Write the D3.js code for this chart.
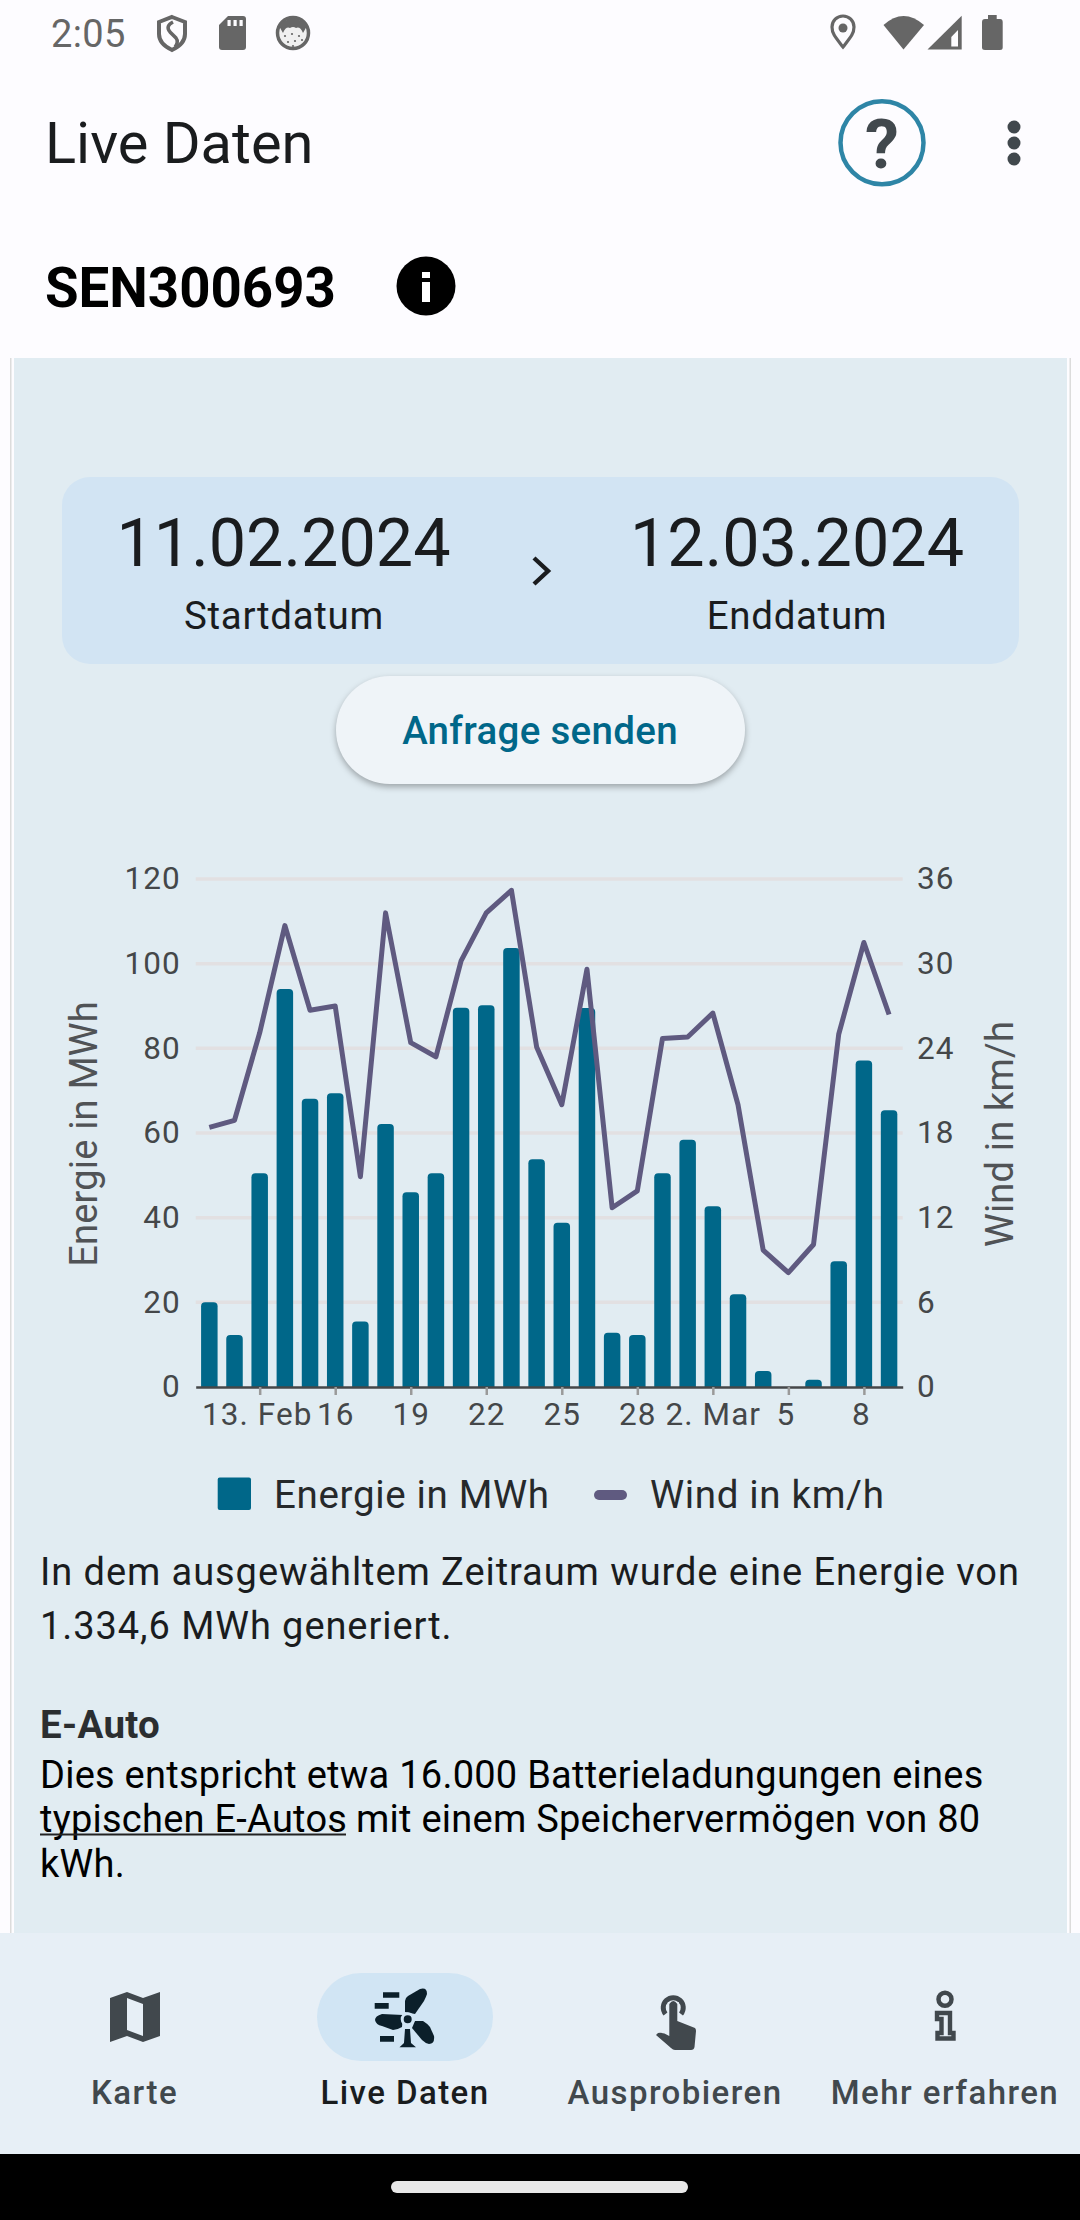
<!DOCTYPE html>
<html lang="de">
<head>
<meta charset="utf-8">
<title>Live Daten</title>
<script src="https://cdn.jsdelivr.net/npm/d3@7"></script>
<style>
  html, body { margin: 0; padding: 0; background: #fdfcff; }
  svg { display: block; font-family: Roboto, sans-serif; }
</style>
</head>
<body>
<div id="app"></div>
<script>
// values
const energy = [20, 12.3, 50.5, 94, 68.1, 69.4, 15.5, 62.1, 46, 50.5, 89.6, 90.2, 103.7, 53.8,
  38.8, 89.5, 12.8, 12.3, 50.5, 58.4, 42.7, 21.9, 3.8, 0, 1.7, 29.7, 77.1, 65.4]
const wind = [18.4, 18.9, 25.1, 32.7, 26.7, 27, 14.9, 33.6, 24.4, 23.4, 30.2, 33.6, 35.2, 24.1,
  20, 29.6, 12.7, 13.9, 24.7, 24.8, 26.5, 20, 9.7, 8.1, 10.1, 25, 31.5, 26.4]
const days = energy.map((_, i) => new Date(2024, 1, 11 + i))
const xTickDays = [new Date(2024, 1, 13), new Date(2024, 1, 16), new Date(2024, 1, 19), new Date(2024, 1, 22),
  new Date(2024, 1, 25), new Date(2024, 1, 28), new Date(2024, 2, 2), new Date(2024, 2, 5), new Date(2024, 2, 8)]
const xTickLabels = ['13. Feb', '16', '19', '22', '25', '28', '2. Mar', '5', '8']
const energyTicks = [0, 20, 40, 60, 80, 100, 120]
const windTicks = [0, 6, 12, 18, 24, 30, 36]
const navLabels = ['Karte', 'Live Daten', 'Ausprobieren', 'Mehr erfahren']

const blue = '#006789'
const purple = '#5f5a80'
const dark = '#1a1c1e'
const iconGrey = '#41484d'
const statusGrey = '#666666'

const svg = d3.select('#app').append('svg').attr('width', 1080).attr('height', 2220)

function label (txt, x, y, size, opts = {}) {
  return svg.append('text')
    .text(txt)
    .attr('x', x)
    .attr('y', y)
    .attr('font-size', size)
    .attr('font-weight', opts.weight || 400)
    .attr('letter-spacing', opts.spacing || 0)
    .attr('text-anchor', opts.anchor || 'start')
    .attr('fill', opts.fill || dark)
}

function shape (d, fill) {
  return svg.append('path').attr('d', d).attr('fill', fill)
}

// page background
svg.append('rect').attr('width', 1080).attr('height', 2220).attr('fill', '#fdfcff')
svg.append('rect').attr('x', 10).attr('y', 358).attr('width', 1.5).attr('height', 1575).attr('fill', '#dcdcdc')
svg.append('rect').attr('x', 1069.5).attr('y', 358).attr('width', 1.5).attr('height', 1575).attr('fill', '#dcdcdc')
svg.append('rect').attr('x', 14).attr('y', 358).attr('width', 1053).attr('height', 1575).attr('fill', '#e1ecf2')

// status bar
label('2:05', 51, 47, 38, { fill: statusGrey, spacing: 0.4 })
const shield = svg.append('g').attr('fill', 'none').attr('stroke', statusGrey)
shield.append('path').attr('stroke-width', 4)
  .attr('d', 'M172 17 L185 22 V34 Q185 44 172 50 Q159 44 159 34 V22 Z')
shield.append('path').attr('stroke-width', 3.5)
  .attr('d', 'M173 22 Q165 26 170 32 L176 38 Q179 42 175 47')
shape('M228 16 H243 Q246 16 246 19 V47 Q246 50 243 50 H222 Q219 50 219 47 V25 Z', statusGrey)
svg.selectAll('.sdpin').data([229, 235, 241]).join('rect').attr('class', 'sdpin')
  .attr('x', d => d - 1.5).attr('y', 20).attr('width', 3.2).attr('height', 6).attr('fill', '#fdfcff')
svg.append('circle').attr('cx', 293).attr('cy', 33).attr('r', 15.5).attr('fill', '#f0f0f0').attr('stroke', statusGrey).attr('stroke-width', 3.5)
shape('M279 26 Q293 11 307 26 L303 33 Q300 26 296 28 Q293 26 290 28 Q286 26 283 33 Z', statusGrey)
svg.selectAll('.cookie').data([[285, 36], [292, 34], [299, 36], [288, 42], [295, 41], [302, 40], [293, 46]])
  .join('circle').attr('class', 'cookie')
  .attr('cx', d => d[0]).attr('cy', d => d[1]).attr('r', 1.1).attr('fill', statusGrey)
svg.append('path').attr('fill', 'none').attr('stroke', statusGrey).attr('stroke-width', 3.2)
  .attr('d', 'M843 47 C836 38 832 34 832 27 A11 11 0 0 1 854 27 C854 34 850 38 843 47 Z')
svg.append('circle').attr('cx', 843).attr('cy', 28).attr('r', 4.5).attr('fill', statusGrey)
shape('M903.5 49.5 L883.5 25 Q903.5 7 924 25 Z', statusGrey)
shape('M927.5 49.5 L961.7 15.7 V49.5 Z', statusGrey)
shape('M951.3 37 L958 30 V46.6 H951.3 Z', '#fdfcff')
shape('M988 15 H996.7 V19 H1000 Q1002.7 19 1002.7 22 V47.5 Q1002.7 50 1000 50 H985 Q982 50 982 47.5 V22 Q982 19 985 19 H988 Z', statusGrey)

// app bar
label('Live Daten', 45, 163, 57.75)
svg.append('circle').attr('cx', 882).attr('cy', 142.7).attr('r', 41.5).attr('fill', 'none').attr('stroke', '#2e85a6').attr('stroke-width', 4.5)
label('?', 882, 168, 68, { anchor: 'middle', weight: 700, fill: iconGrey })
svg.selectAll('.dot').data([127, 143, 159]).join('circle').attr('class', 'dot')
  .attr('cx', 1014).attr('cy', d => d).attr('r', 6.5).attr('fill', iconGrey)
label('SEN300693', 45, 307, 54.6, { weight: 700, fill: '#000' })
svg.append('circle').attr('cx', 426).attr('cy', 286).attr('r', 29.5).attr('fill', '#000')
svg.append('rect').attr('x', 422).attr('y', 272).attr('width', 8).attr('height', 6).attr('fill', '#fff')
svg.append('rect').attr('x', 422).attr('y', 282).attr('width', 8).attr('height', 20).attr('fill', '#fff')

// date range box
svg.append('rect').attr('x', 62).attr('y', 477).attr('width', 957).attr('height', 187).attr('rx', 28).attr('fill', '#d2e4f3')
label('11.02.2024', 283.5, 566, 66.5, { anchor: 'middle' })
label('12.03.2024', 797, 566, 66.5, { anchor: 'middle' })
label('Startdatum', 284, 629, 38.5, { anchor: 'middle', spacing: 0.66 })
label('Enddatum', 797, 629, 38.5, { anchor: 'middle', spacing: 0.66 })
svg.append('path').attr('d', 'M534 558 L548 571 L534 584').attr('fill', 'none').attr('stroke', dark).attr('stroke-width', 4.4)

// button
svg.append('rect').attr('x', 336).attr('y', 676).attr('width', 409).attr('height', 108).attr('rx', 54).attr('fill', '#eff4f8')
  .style('filter', 'drop-shadow(0 3px 3px rgba(0,0,0,0.3))')
label('Anfrage senden', 540, 744, 38.5, { anchor: 'middle', weight: 500, spacing: 0.3, fill: blue })

// chart
const x = d3.scaleTime().domain([new Date(2024, 1, 10, 11), new Date(2024, 2, 9, 13)]).range([195.7, 902.7])
const yEnergy = d3.scaleLinear().domain([0, 120]).range([1387, 879])
const yWind = d3.scaleLinear().domain([0, 36]).range([1387, 879])
const barWidth = 16.5
const tickColor = '#444749'

svg.append('g').selectAll('line').data(energyTicks.slice(1)).join('line')
  .attr('x1', x.range()[0]).attr('x2', x.range()[1])
  .attr('y1', d => yEnergy(d)).attr('y2', d => yEnergy(d))
  .attr('stroke', '#e2e0e2').attr('stroke-width', 3.5)

const barPath = (d, i) => {
  const p = d3.path()
  const cx = x(days[i])
  const top = yEnergy(d)
  const bottom = yEnergy(0)
  const r = Math.min(4, bottom - top)
  p.moveTo(cx - barWidth / 2, bottom)
  p.lineTo(cx - barWidth / 2, top + r)
  p.quadraticCurveTo(cx - barWidth / 2, top, cx - barWidth / 2 + r, top)
  p.lineTo(cx + barWidth / 2 - r, top)
  p.quadraticCurveTo(cx + barWidth / 2, top, cx + barWidth / 2, top + r)
  p.lineTo(cx + barWidth / 2, bottom)
  p.closePath()
  return p.toString()
}
svg.append('g').selectAll('path').data(energy).join('path')
  .attr('d', barPath)
  .attr('fill', blue)

svg.append('path')
  .datum(wind)
  .attr('d', d3.line().x((d, i) => x(days[i])).y(d => yWind(d)))
  .attr('fill', 'none')
  .attr('stroke', purple)
  .attr('stroke-width', 5)
  .attr('stroke-linejoin', 'round')

const xAxis = d3.axisBottom(x).tickValues(xTickDays).tickFormat((d, i) => xTickLabels[i]).tickSize(8).tickPadding(8).tickSizeOuter(0)
const leftAxis = d3.axisLeft(yEnergy).tickValues(energyTicks).tickSize(0).tickPadding(15)
const rightAxis = d3.axisRight(yWind).tickValues(windTicks).tickSize(0).tickPadding(14.3)

function styleAxis (g) {
  g.selectAll('text').attr('font-size', 31.5).attr('font-family', 'Roboto, sans-serif').attr('letter-spacing', 1.05).attr('fill', tickColor)
  g.selectAll('.tick line').attr('stroke', '#9a9a9a').attr('stroke-width', 2.5)
}
const gx = svg.append('g').attr('transform', 'translate(0,1387)').call(xAxis).call(styleAxis)
gx.select('.domain').attr('stroke', tickColor).attr('stroke-width', 2.5)
gx.selectAll('text').filter((d, i) => i === 0 || i === 7 || i === 8).attr('dx', -3)
const gl = svg.append('g').attr('transform', 'translate(195.7,0)').call(leftAxis).call(styleAxis)
gl.select('.domain').remove()
gl.selectAll('text').attr('dy', '0.31em')
const gr = svg.append('g').attr('transform', 'translate(902.7,0)').call(rightAxis).call(styleAxis)
gr.select('.domain').remove()
gr.selectAll('text').attr('dy', '0.31em')

label('Energie in MWh', 0, 0, 38, { anchor: 'middle', fill: '#505356', spacing: 0.2 })
  .attr('transform', 'translate(97,1134) rotate(-90)')
label('Wind in km/h', 0, 0, 38, { anchor: 'middle', fill: '#505356', spacing: 0.2 })
  .attr('transform', 'translate(1013,1134) rotate(-90)')

// legend
svg.append('rect').attr('x', 217.7).attr('y', 1477.5).attr('width', 33.3).attr('height', 32.5).attr('rx', 2).attr('fill', blue)
label('Energie in MWh', 274, 1508, 38.5, { spacing: 0.66, fill: '#26292b' })
svg.append('line').attr('x1', 599).attr('x2', 622).attr('y1', 1495).attr('y2', 1495)
  .attr('stroke', purple).attr('stroke-width', 10).attr('stroke-linecap', 'round')
label('Wind in km/h', 650, 1508, 38.5, { spacing: 0.66, fill: '#26292b' })

// body text
label('In dem ausgewähltem Zeitraum wurde eine Energie von', 40, 1585, 38, { spacing: 0.93 })
label('1.334,6 MWh generiert.', 40, 1639, 38, { spacing: 0.93 })
label('E-Auto', 40, 1738, 38.5, { weight: 700, spacing: 0.3, fill: '#2b2e30' })
label('Dies entspricht etwa 16.000 Batterieladungungen eines', 40, 1788, 38, { spacing: 0.25, fill: '#000' })
label('typischen E-Autos', 40, 1832, 38, { spacing: 0.25, fill: '#000' })
label('mit einem Speichervermögen von 80', 356, 1832, 38, { spacing: 0.25, fill: '#000' })
label('kWh.', 40, 1877, 38, { spacing: 0.25, fill: '#000' })
svg.append('rect').attr('x', 40).attr('y', 1833.5).attr('width', 306).attr('height', 2).attr('fill', '#222')

// bottom navigation
svg.append('rect').attr('y', 1933).attr('width', 1080).attr('height', 221).attr('fill', '#e7eff6')
svg.append('rect').attr('y', 2154).attr('width', 1080).attr('height', 66).attr('fill', '#000')
svg.append('rect').attr('x', 391).attr('y', 2181).attr('width', 297).attr('height', 12).attr('rx', 6).attr('fill', '#e8e8e8')
svg.append('rect').attr('x', 317).attr('y', 1973).attr('width', 176).attr('height', 88).attr('rx', 44).attr('fill', '#d1e5f4')

const navX = [134.5, 405, 675, 945]
navLabels.forEach((txt, i) => {
  label(txt, navX[i], 2104, 33, { anchor: 'middle', weight: 500, spacing: 1.45, fill: i === 1 ? '#191c1e' : iconGrey })
})

shape('M110 1998 L127 1992 L143 1998 L160 1992 V2036 L143 2042 L127 2036 L110 2042 Z M127 1998 V2030 L143 2036 V2004 Z', iconGrey)
  .attr('fill-rule', 'evenodd')

const fanColor = '#0b1f2a'
shape('M383 1992.3 H399.3 V1997.7 H383 Z M374.7 2003 H388.7 V2008.7 H374.7 Z M380 2036 H394 V2041.7 H380 Z', fanColor)
shape('M405 2012 V2001 Q405 1998 408 1996 L420 1989 Q427 1987 427 1994 Q426 1997 424 2001 L415 2014 Z', fanColor)
shape('M403 2015 L382 2014 Q375 2016 375 2020 Q376 2025 382 2026 L393 2030 Q397 2030 402 2027 Z', fanColor)
shape('M415 2021 L423 2021 Q428 2024 430 2027 L434 2036 Q435 2044 429 2044 Q425 2043 422 2040 L412 2028 Z', fanColor)
shape('M405 2029 H410 L411 2043 L416 2047.3 H399.5 L404 2043 Z', fanColor)
svg.append('circle').attr('cx', 407.7).attr('cy', 2019.3).attr('r', 5.5).attr('fill', fanColor).attr('stroke', '#d1e5f4').attr('stroke-width', 3)

const touch = svg.append('g').attr('fill', 'none').attr('stroke', iconGrey)
touch.append('path').attr('stroke-width', 5).attr('d', 'M665.5 2014 A10 10 0 1 1 681 2014')
touch.append('path').attr('stroke', '#e7eff6').attr('stroke-width', 11).attr('d', 'M673.3 2002 V2016')
shape('M669.3 2004 Q673.3 1998 677.3 2004 V2021 L695 2028 Q696 2029 696 2031 L694.5 2047 Q694 2050 691 2050 H675 Q673 2050 671 2048 L656 2035 L658 2033 Q663 2032 669.3 2036 Z', iconGrey)

svg.append('circle').attr('cx', 945).attr('cy', 1999.3).attr('r', 6.5).attr('fill', 'none').attr('stroke', iconGrey).attr('stroke-width', 4.5)
svg.append('path').attr('fill', 'none').attr('stroke', iconGrey).attr('stroke-width', 4.4)
  .attr('d', 'M937 2013 H950 V2033 H953.5 V2038.5 H937.5 V2033 H941.5 V2019 H937 Z')
</script>
</body>
</html>
